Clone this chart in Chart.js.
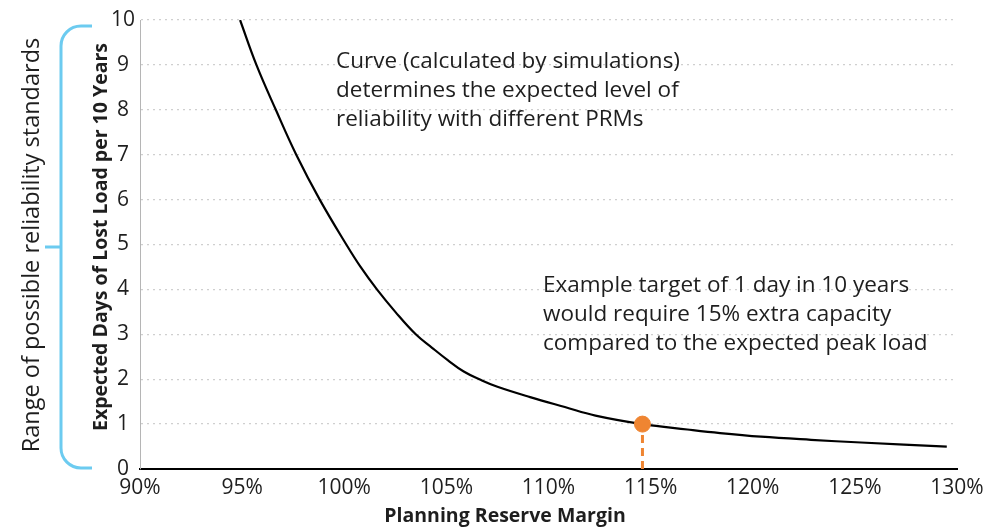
<!DOCTYPE html>
<html>
<head>
<meta charset="utf-8">
<script src="https://cdn.jsdelivr.net/npm/chart.js@4/dist/chart.umd.min.js"></script>
<style>
  html, body { margin: 0; padding: 0; background: #fff; }
  #wrap { width: 1002px; height: 532px; position: relative; }
</style>
</head>
<body>
<div id="wrap"><canvas id="chartPrm"></canvas></div>
<script>
// reserve margin (%) vs expected days of lost load per 10 years
const margins  = [94.9, 95.7, 96.65, 97.65, 98.8, 100.1, 100.8, 101.6, 102.5, 103.5, 104.3, 105.05, 105.85, 106.7, 107.5, 109.1, 110.8, 112.3, 114.6, 116.8, 118.4, 120.4, 122.85, 125.3, 129.5];
const lostDays = [10, 9, 8, 7, 6, 5, 4.5, 4, 3.5, 3, 2.7, 2.43, 2.17, 1.98, 1.83, 1.6, 1.38, 1.19, 1.0, 0.88, 0.8, 0.72, 0.65, 0.59, 0.5];

const targetMargin = [114.6];
const targetDays = [1];

const xTicks = [90, 95, 100, 105, 110, 115, 120, 125, 130];

const curveNote = ["Curve (calculated by simulations)", "determines the expected level of", "reliability with different PRMs"];
const targetNote = ["Example target of 1 day in 10 years", "would require 15% extra capacity", "compared to the expected peak load"];

const textColor = "#1e1e1e";
const orange = "#ef8532";
const blue = "#6ccbf0";

const curvePoints = margins.map((m, i) => ({ x: m, y: lostDays[i] }));
const targetPoint = targetMargin.map((m, i) => ({ x: m, y: targetDays[i] }));
const targetDrop = [{ x: targetMargin[0], y: 0 }, { x: targetMargin[0], y: targetDays[0] }];

// notes, axis titles and the bracket on the left
const decorations = {
  id: "decorations",
  afterDraw(chart) {
    const ctx = chart.ctx;
    const y = chart.scales.y;
    ctx.save();
    ctx.fillStyle = textColor;
    ctx.textBaseline = "alphabetic";
    ctx.textAlign = "left";
    ctx.font = "22.5px 'Open Sans'";
    curveNote.forEach((t, i) => ctx.fillText(t, 336, 68 + i * 29));
    targetNote.forEach((t, i) => ctx.fillText(t, 543, 292 + i * 29));

    // x title
    ctx.textAlign = "center";
    ctx.font = "bold 19.5px 'Open Sans'";
    ctx.fillText("Planning Reserve Margin", 505, 522);

    // y title
    ctx.save();
    ctx.translate(107, 237);
    ctx.rotate(-Math.PI / 2);
    ctx.font = "bold 19.5px 'Open Sans'";
    ctx.fillText("Expected Days of Lost Load per 10 Years", 0, 0);
    ctx.restore();

    // range label
    ctx.save();
    ctx.translate(39, 245);
    ctx.rotate(-Math.PI / 2);
    ctx.font = "23.5px 'Open Sans'";
    ctx.fillText("Range of possible reliability standards", 0, 0);
    ctx.restore();

    // bracket
    const top = y.getPixelForValue(10) + 6;
    const bot = y.getPixelForValue(0) - 1;
    const mid = (top + bot) / 2;
    const bx = 61, r = 20, ex = 92;
    ctx.strokeStyle = blue;
    ctx.lineWidth = 3;
    ctx.beginPath();
    ctx.moveTo(ex, top);
    ctx.lineTo(bx + r, top);
    ctx.arcTo(bx, top, bx, top + r, r);
    ctx.lineTo(bx, bot - r);
    ctx.arcTo(bx, bot, bx + r, bot, r);
    ctx.lineTo(ex, bot);
    ctx.moveTo(bx, mid);
    ctx.lineTo(45, mid);
    ctx.stroke();
    ctx.restore();
  }
};

new Chart("chartPrm", {
  type: "scatter",
  data: {
    datasets: [
      {
        label: "Target",
        data: targetPoint,
        backgroundColor: orange,
        borderColor: orange,
        pointRadius: 8,
        pointHoverRadius: 8,
        order: 0,
      },
      {
        label: "Curve",
        data: curvePoints,
        showLine: true,
        borderColor: "#000",
        borderWidth: 2.2,
        pointRadius: 0,
        tension: 0.4,
        order: 1,
      },
      {
        label: "Drop",
        data: targetDrop,
        showLine: true,
        borderColor: orange,
        borderWidth: 3,
        borderDash: [8, 5],
        pointRadius: 0,
        order: 2,
      },
    ],
  },
  options: {
    responsive: true,
    maintainAspectRatio: false,
    animation: false,
    layout: { padding: { top: 20, right: 45, left: 0, bottom: 0 } },
    plugins: {
      legend: { display: false },
      tooltip: { enabled: false },
    },
    scales: {
      x: {
        type: "linear",
        min: 90,
        max: 130,
        afterBuildTicks: (scale) => { scale.ticks = xTicks.map((v) => ({ value: v })); },
        afterFit: (scale) => { scale.height = 63; },
        grid: { display: false, drawTicks: false },
        border: { color: "#000", width: 2 },
        ticks: {
          color: textColor,
          font: { family: "'Open Sans'", size: 21 },
          padding: 6,
          maxRotation: 0,
          callback: (v) => v + "%",
        },
      },
      y: {
        min: 0,
        max: 10,
        afterFit: (scale) => { scale.width = 140; },
        grid: { color: "#cfcfcf", lineWidth: 1.3, drawTicks: false },
        border: { color: "#b5b5b5", width: 1, dash: [2, 4] },
        ticks: {
          stepSize: 1,
          color: textColor,
          font: { family: "'Open Sans'", size: 21 },
          padding: 5,
          crossAlign: "center",
        },
      },
    },
  },
  plugins: [decorations],
});
</script>
</body>
</html>
